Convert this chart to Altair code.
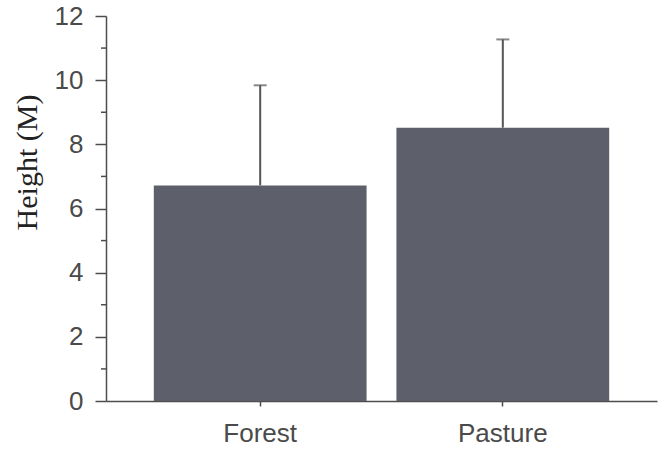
import altair as alt
import pandas as pd

categories = ["Forest", "Pasture"]
means = [6.72, 8.52]
upper = [9.84, 11.27]
major_ticks = [0, 2, 4, 6, 8, 10, 12]
minor_ticks = [1, 3, 5, 7, 9, 11]

df = pd.DataFrame({"group": categories, "mean": means, "upper": upper})
minor_df = pd.DataFrame({"v": minor_ticks})

AX = "#4d4d4d"
LAB = "#4a4a4a"
xscale = alt.Scale(paddingInner=0.123, paddingOuter=0.197)
yscale = alt.Scale(domain=[0, 12], nice=False)

x = alt.X("group:N", sort=categories, scale=xscale, title=None,
          axis=alt.Axis(labelAngle=0, labelFont="Liberation Sans", labelFontSize=26,
                        labelColor=LAB, labelPadding=14,
                        tickSize=5, domainColor=AX, tickColor=AX, domainWidth=1.5,
                        tickWidth=1.5))
y_axis = alt.Axis(values=major_ticks, tickSize=11, labelFont="Liberation Sans",
                  labelFontSize=26, labelColor=LAB,
                  labelPadding=12, domainColor=AX, tickColor=AX, domainWidth=1.5,
                  tickWidth=1.5, grid=False, title="Height (M)",
                  titleFont="Liberation Serif", titleFontSize=30,
                  titleFontWeight="normal", titleColor="#222",
                  titleAngle=270, titleX=-79, titleY=146, titleAlign="center",
                  titleBaseline="middle")

bars = alt.Chart(df).mark_bar(color="#5d606b").encode(
    x=x, y=alt.Y("mean:Q", scale=yscale, axis=y_axis))
err = alt.Chart(df).mark_rule(color="#555555", strokeWidth=2).encode(
    x=alt.X("group:N", sort=categories, scale=xscale), y=alt.Y("mean:Q", scale=yscale), y2="upper:Q")
cap = alt.Chart(df).mark_tick(color="#555555", size=13, thickness=2).encode(
    x=alt.X("group:N", sort=categories, scale=xscale), y=alt.Y("upper:Q", scale=yscale))
minor = alt.Chart(minor_df).mark_rule(color=AX, strokeWidth=1.5).encode(
    y=alt.Y("v:Q", scale=yscale), x=alt.value(-5), x2=alt.value(0))

chart = alt.layer(bars, err, cap, minor).properties(
    width=551, height=385,
    padding={"left": 106, "top": 16, "right": 1, "bottom": 48},
    autosize=alt.AutoSizeParams(type="none"),
).configure_view(stroke=None)

chart.save("out.html", embed_options={"renderer": "svg", "actions": False})
